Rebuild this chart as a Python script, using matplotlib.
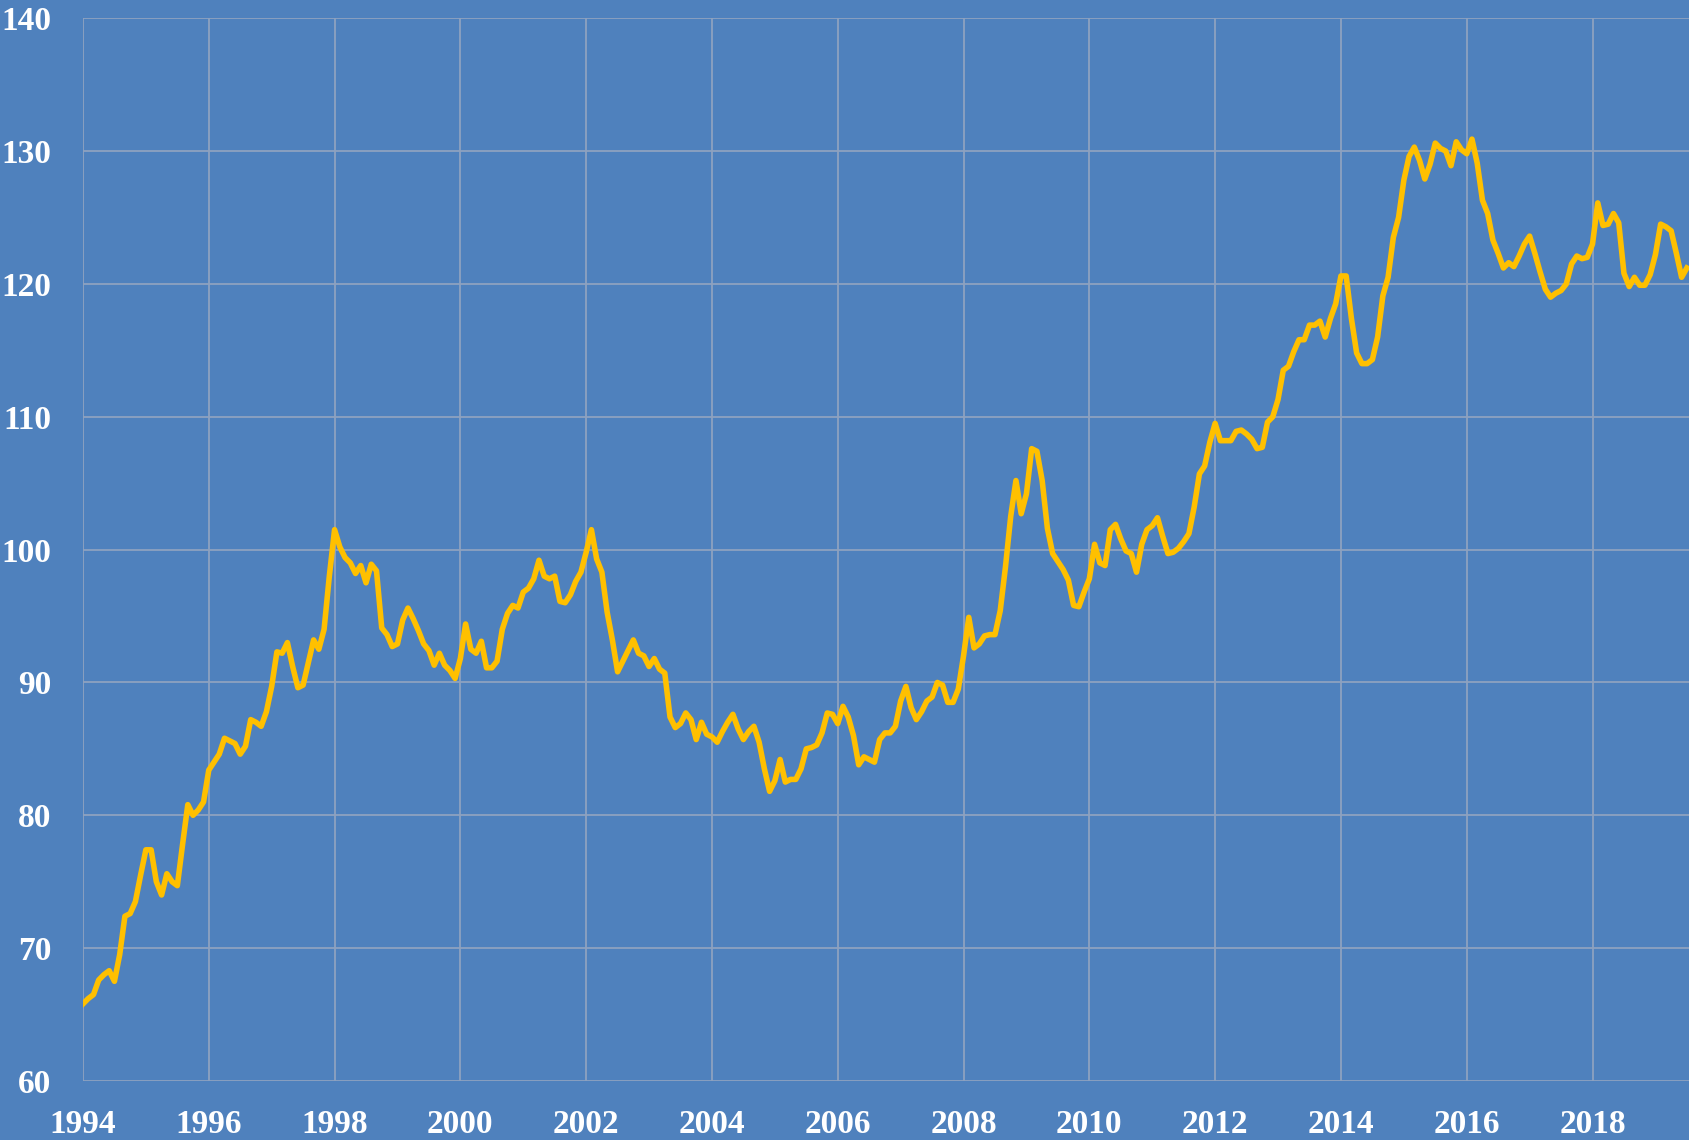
import numpy as np
import matplotlib
matplotlib.use("Agg")
import matplotlib.pyplot as plt

plt.rcParams['font.family'] = ['Liberation Serif', 'DejaVu Serif']

# monthly index values, Jan 1994 onward
v1994 = [65.8, 66.2, 66.5, 67.6, 68.0, 68.3, 67.5, 69.5, 72.4, 72.6, 73.5, 75.5]
v1995 = [77.4, 77.4, 75.0, 74.0, 75.6, 75.0, 74.7, 77.8, 80.8, 80.0, 80.4, 81.0]
v1996 = [83.4, 84.0, 84.6, 85.8, 85.6, 85.4, 84.6, 85.2, 87.2, 87.0, 86.7, 87.8]
v1997 = [89.7, 92.3, 92.2, 93.0, 91.2, 89.6, 89.8, 91.5, 93.2, 92.5, 94.0, 98.0]
v1998 = [101.5, 100.2, 99.4, 99.0, 98.2, 98.8, 97.5, 98.9, 98.4, 94.1, 93.6, 92.7]
v1999 = [92.9, 94.7, 95.6, 94.8, 93.9, 92.9, 92.4, 91.3, 92.2, 91.3, 90.9, 90.3]
v2000 = [91.8, 94.4, 92.5, 92.2, 93.1, 91.1, 91.1, 91.6, 94.0, 95.2, 95.8, 95.6]
v2001 = [96.8, 97.1, 97.8, 99.2, 98.0, 97.8, 98.0, 96.1, 96.0, 96.6, 97.6, 98.3]
v2002 = [99.8, 101.5, 99.3, 98.3, 95.3, 93.2, 90.8, 91.6, 92.4, 93.2, 92.2, 92.0]
v2003 = [91.2, 91.8, 91.0, 90.7, 87.4, 86.6, 86.9, 87.7, 87.2, 85.7, 87.0, 86.1]
v2004 = [85.9, 85.5, 86.3, 87.0, 87.6, 86.5, 85.7, 86.3, 86.7, 85.5, 83.5, 81.8]
v2005 = [82.6, 84.2, 82.5, 82.7, 82.7, 83.5, 85.0, 85.1, 85.3, 86.2, 87.7, 87.6]
v2006 = [86.9, 88.2, 87.4, 86.0, 83.8, 84.4, 84.2, 84.0, 85.7, 86.2, 86.2, 86.7]
v2007 = [88.6, 89.7, 88.1, 87.2, 87.8, 88.6, 88.9, 90.0, 89.8, 88.5, 88.5, 89.5]
v2008 = [92.0, 94.9, 92.6, 92.9, 93.5, 93.6, 93.6, 95.4, 98.7, 102.5, 105.2, 102.7]
v2009 = [104.2, 107.6, 107.4, 105.2, 101.6, 99.7, 99.1, 98.5, 97.7, 95.8, 95.7, 96.8]
v2010 = [97.8, 100.4, 99.0, 98.8, 101.5, 101.9, 100.8, 99.9, 99.7, 98.3, 100.4, 101.5]
v2011 = [101.8, 102.4, 101.0, 99.7, 99.8, 100.1, 100.6, 101.2, 103.2, 105.7, 106.3, 108.1]
v2012 = [109.5, 108.2, 108.2, 108.2, 108.9, 109.0, 108.7, 108.3, 107.6, 107.7, 109.6, 110.0]
v2013 = [111.3, 113.5, 113.8, 114.9, 115.8, 115.8, 116.9, 116.9, 117.2, 116.0, 117.4, 118.5]
v2014 = [120.6, 120.6, 117.4, 114.8, 114.0, 114.0, 114.3, 116.0, 119.1, 120.5, 123.5, 125.0]
v2015 = [127.8, 129.6, 130.3, 129.3, 127.9, 129.0, 130.6, 130.2, 130.0, 128.9, 130.7, 130.1]
v2016 = [129.8, 130.9, 129.1, 126.3, 125.3, 123.3, 122.3, 121.2, 121.6, 121.3, 122.1, 123.0]
v2017 = [123.6, 122.3, 120.9, 119.6, 119.0, 119.3, 119.5, 120.0, 121.5, 122.1, 121.9, 122.0]
v2018 = [123.0, 126.1, 124.4, 124.5, 125.3, 124.6, 120.8, 119.8, 120.5, 119.9, 119.9, 120.7]
v2019 = [122.2, 124.5, 124.3, 124.0, 122.3, 120.5, 121.2]

values = (v1994 + v1995 + v1996 + v1997 + v1998 + v1999 + v2000 + v2001 + v2002
          + v2003 + v2004 + v2005 + v2006 + v2007 + v2008 + v2009 + v2010 + v2011
          + v2012 + v2013 + v2014 + v2015 + v2016 + v2017 + v2018 + v2019)
start_year = 1994
dates = start_year + np.arange(len(values)) / 12.0

x_ticks = list(range(1994, 2019, 2))
y_ticks = list(range(60, 141, 10))

bg = '#4F81BD'
fig = plt.figure(figsize=(16.9, 11.4), dpi=100, facecolor=bg)
ax = fig.add_axes([0.0491, 0.0518, 0.9509, 0.9322])
ax.set_facecolor(bg)

ax.plot(dates, values, color='#FFC000', lw=4.0, solid_joinstyle='round', zorder=3)

ax.set_xlim(1994, 1994 + 306.6 / 12)
ax.set_ylim(60, 140)
ax.set_xticks(x_ticks)
ax.set_yticks(y_ticks)
ax.grid(True, color='#8EA2C0', lw=1.3)
ax.set_axisbelow(True)
for s in ax.spines.values():
    s.set_visible(False)
ax.tick_params(length=0, colors='white', labelsize=24)
ax.tick_params(axis='y', pad=23)
ax.tick_params(axis='x', pad=20)
for lbl in ax.get_xticklabels() + ax.get_yticklabels():
    lbl.set_fontweight('bold')

fig.savefig('out.png', dpi=100, facecolor=bg)
